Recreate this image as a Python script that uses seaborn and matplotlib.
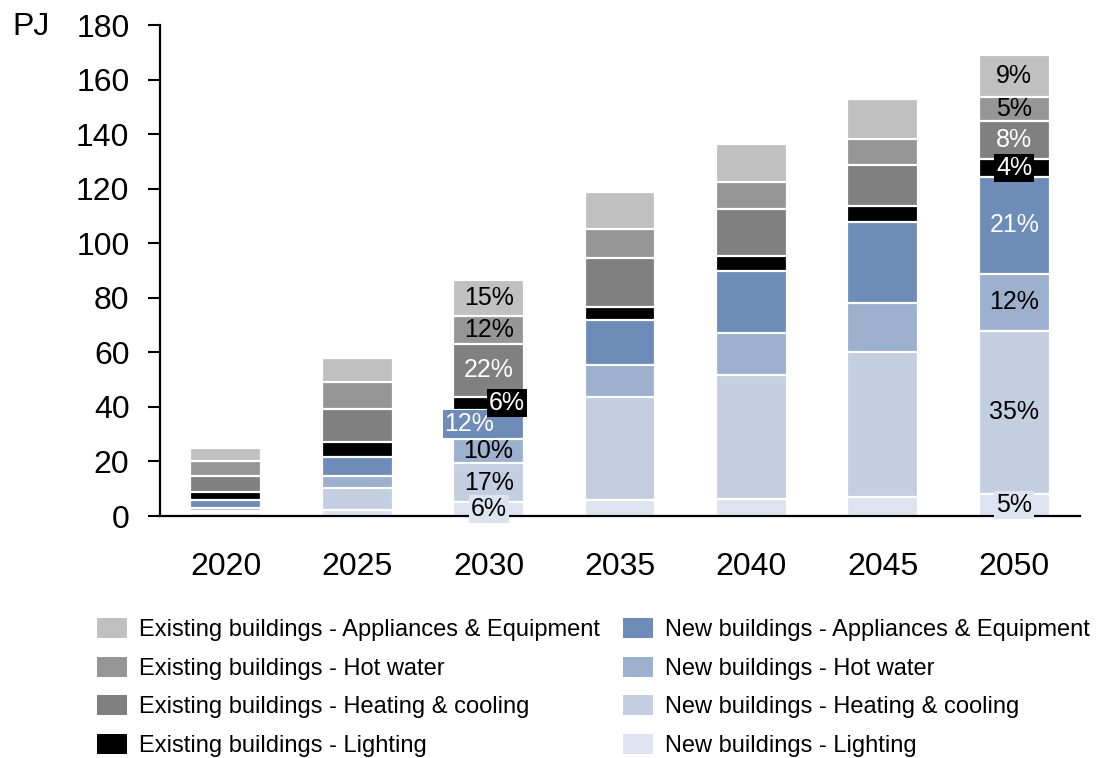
import matplotlib
matplotlib.use("Agg")
import matplotlib.pyplot as plt
import seaborn as sns
import pandas as pd
from matplotlib.patches import Patch

# Building energy demand by end use, PJ
years = ["2020", "2025", "2030", "2035", "2040", "2045", "2050"]
new_lighting = [1.2, 2.3, 5.0, 5.7, 6.3, 7.1, 8.1]
new_heating = [0.8, 8.1, 14.5, 37.8, 45.5, 53.2, 59.8]
new_hot_water = [0.8, 4.3, 8.8, 11.7, 15.3, 17.8, 21.0]
new_appliances = [3.1, 6.8, 10.5, 16.6, 22.8, 29.5, 35.4]
ex_lighting = [2.8, 5.5, 5.0, 5.0, 5.5, 6.2, 6.4]
ex_heating = [5.9, 12.1, 19.2, 17.7, 17.0, 15.0, 14.1]
ex_hot_water = [5.4, 10.2, 10.5, 10.6, 10.0, 9.3, 8.9]
ex_appliances = [4.8, 8.5, 13.0, 13.7, 14.0, 14.9, 15.3]

NL = "New buildings - Lighting"
NH = "New buildings - Heating & cooling"
NW = "New buildings - Hot water"
NA = "New buildings - Appliances & Equipment"
EL = "Existing buildings - Lighting"
EH = "Existing buildings - Heating & cooling"
EW = "Existing buildings - Hot water"
EA = "Existing buildings - Appliances & Equipment"

# stacking order, bottom to top
series_names = [NL, NH, NW, NA, EL, EH, EW, EA]
series_values = [new_lighting, new_heating, new_hot_water, new_appliances,
                 ex_lighting, ex_heating, ex_hot_water, ex_appliances]
colors = {
    NL: "#dde4ef", NH: "#c3cee1", NW: "#9db0ce", NA: "#6e8cb8",
    EL: "#000000", EH: "#808080", EW: "#969696", EA: "#c0c0c0",
}

df = pd.DataFrame(dict(zip(series_names, series_values)), index=years)
cum = df.cumsum(axis=1)
totals = df.sum(axis=1)

sns.set_theme(style="white")
plt.rcParams["font.family"] = ["Liberation Sans", "DejaVu Sans"]
plt.rcParams["text.color"] = "black"

fig = plt.figure(figsize=(11, 7.58), dpi=100)
ax = fig.add_axes([160 / 1100, 1 - 516 / 758, 920 / 1100, 491 / 758])

# draw cumulative bars from the top of the stack downwards
for name in reversed(series_names):
    sns.barplot(x=years, y=cum[name].values, color=colors[name], saturation=1,
                width=0.54, edgecolor="white", linewidth=1.6, errorbar=None, ax=ax)

ax.set_xlim(-0.5, 6.5)
ax.set_ylim(0, 180)
ax.set_yticks(range(0, 181, 20))
ax.set_xlabel("")
ax.set_ylabel("")
sns.despine(ax=ax)
for side in ("left", "bottom"):
    ax.spines[side].set_color("black")
    ax.spines[side].set_linewidth(1.6)
ax.tick_params(axis="y", length=9, width=1.5, pad=13, labelsize=23,
               colors="black", left=True, direction="out")
ax.tick_params(axis="x", length=0, pad=26, labelsize=23, colors="black")

fig.text(12 / 1100, 1 - 27 / 758, "PJ", fontsize=23, ha="left", va="center")

# share-of-total labels
label_years = ["2030", "2050"]
white_text = {NA, EL, EH}
boxed = {NL, EL}
shift = {("2030", EL): 0.14, ("2030", NA): -0.145}
for yr in label_years:
    i = years.index(yr)
    for name in series_names:
        v = df.loc[yr, name]
        mid = cum.loc[yr, name] - v / 2
        pct = round(v / totals[yr] * 100)
        dx = shift.get((yr, name), 0.0)
        kw = {}
        if name in boxed or dx != 0.0:
            kw["bbox"] = dict(boxstyle="square,pad=0.08", fc=colors[name], ec="none")
        ax.text(i + dx, mid, f"{pct}%", ha="center", va="center", fontsize=18,
                color="white" if name in white_text else "black", zorder=5,
                clip_on=False, **kw)

legend_order = [EA, EW, EH, EL, NA, NW, NH, NL]
handles = [Patch(facecolor=colors[n], edgecolor="none") for n in legend_order]
fig.legend(handles, legend_order, ncol=2, loc="upper left",
           bbox_to_anchor=(97 / 1100, 1 - 618 / 758), frameon=False,
           fontsize=17, handlelength=1.27, handleheight=0.93,
           handletextpad=0.5, columnspacing=1.0, labelspacing=0.65,
           borderpad=0, borderaxespad=0)

fig.savefig("out.png", dpi=100)
